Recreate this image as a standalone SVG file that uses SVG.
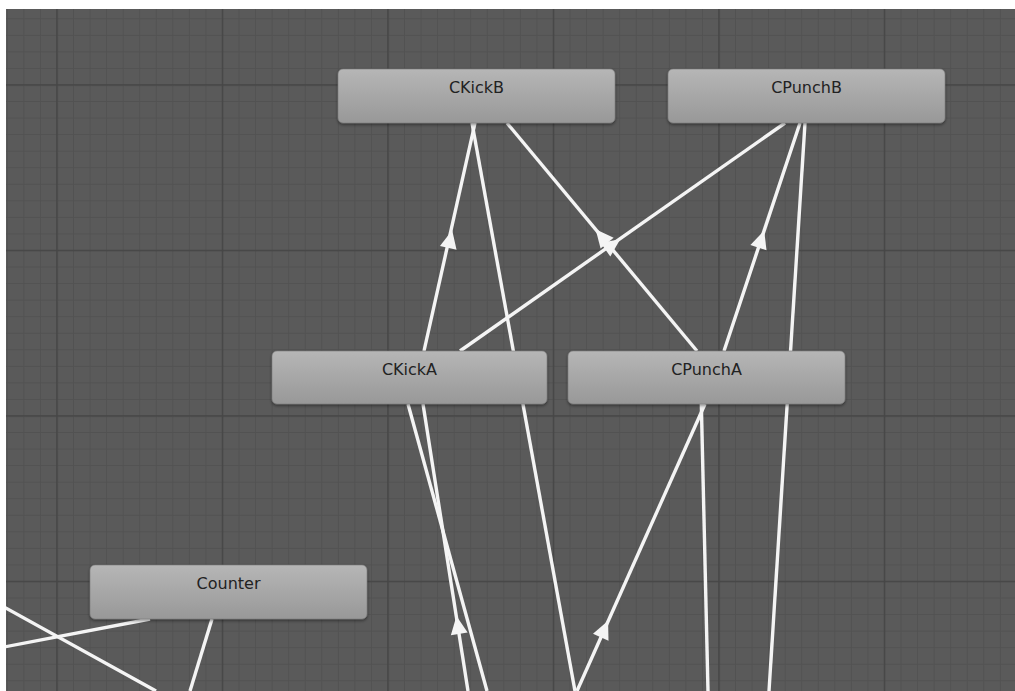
<svg xmlns="http://www.w3.org/2000/svg" width="1015" height="691" viewBox="0 0 1015 691">
  <style>
    .node rect.box { fill: url(#nodeGrad); stroke: #7a7a7a; stroke-width: 0.6; filter: url(#shadow); }
    .node text { font-family: "DejaVu Sans", "Liberation Sans", sans-serif; font-size: 16px; fill: #222222; text-anchor: middle; }
    .edge { stroke: #f4f4f4; stroke-width: 3.4; fill: none; stroke-linecap: butt; }
    .arrow { fill: #f4f4f4; }
  </style>
  <defs>
    <linearGradient id="nodeGrad" x1="0" y1="0" x2="0" y2="1">
      <stop offset="0" stop-color="#b6b6b6"/>
      <stop offset="1" stop-color="#989898"/>
    </linearGradient>
    <filter id="shadow" x="-10%" y="-30%" width="120%" height="160%">
      <feDropShadow dx="0" dy="1.5" stdDeviation="1.5" flood-color="#000000" flood-opacity="0.45"/>
    </filter>
    <pattern id="minor" patternUnits="userSpaceOnUse" x="6.85" y="18.3" width="16.55" height="16.55">
      <rect x="0" y="0" width="1" height="16.55" fill="#525252"/>
      <rect x="0" y="0" width="16.55" height="1" fill="#525252"/>
    </pattern>
    <pattern id="major" patternUnits="userSpaceOnUse" x="56.25" y="84.25" width="165.5" height="165.5">
      <rect x="0" y="0" width="1.5" height="165.5" fill="#464646"/>
      <rect x="0" y="0" width="165.5" height="1.5" fill="#464646"/>
    </pattern>
    <clipPath id="view">
      <rect x="6" y="9" width="1009" height="682"/>
    </clipPath>
    <path id="ah" d="M10,0 L-8,-8.5 L-8,8.5 Z"/>
  </defs>

  <rect x="0" y="0" width="1015" height="691" fill="#ffffff"/>
  <g id="grid">
    <rect x="6" y="9" width="1009" height="682" fill="#5a5a5a"/>
    <rect x="6" y="9" width="1009" height="682" fill="url(#minor)"/>
    <rect x="6" y="9" width="1009" height="682" fill="url(#major)"/>
  </g>

  <g id="connectors" clip-path="url(#view)">
    <line class="edge" x1="424" y1="351" x2="475" y2="123"/>
    <line class="edge" x1="472" y1="123" x2="575" y2="691"/>
    <line class="edge" x1="697" y1="351" x2="507" y2="123"/>
    <line class="edge" x1="460" y1="351" x2="785" y2="123"/>
    <line class="edge" x1="724" y1="351" x2="800" y2="123"/>
    <line class="edge" x1="805" y1="123" x2="769" y2="691"/>
    <line class="edge" x1="701" y1="390" x2="708" y2="691"/>
    <line class="edge" x1="577" y1="691" x2="705" y2="404"/>
    <line class="edge" x1="468" y1="691" x2="423" y2="404"/>
    <line class="edge" x1="408" y1="404" x2="487" y2="691"/>
    <line class="edge" x1="150" y1="619" x2="4" y2="647"/>
    <line class="edge" x1="4" y1="607" x2="156" y2="691"/>
    <line class="edge" x1="212" y1="619" x2="190" y2="691"/>
    <use href="#ah" class="arrow" transform="translate(450,240) rotate(-77.4)"/>
    <use href="#ah" class="arrow" transform="translate(602,237) rotate(-129.8)"/>
    <use href="#ah" class="arrow" transform="translate(612,245) rotate(-35.05)"/>
    <use href="#ah" class="arrow" transform="translate(761,240) rotate(-71.6)"/>
    <use href="#ah" class="arrow" transform="translate(604,630) rotate(-66)"/>
    <use href="#ah" class="arrow" transform="translate(458,626) rotate(-98.9)"/>
  </g>

  <g id="node-ckickb" class="node">
    <rect class="box" x="338" y="69" width="277" height="54" rx="5"/>
    <text x="476.5" y="93">CKickB</text>
  </g>
  <g id="node-cpunchb" class="node">
    <rect class="box" x="668" y="69" width="277" height="54" rx="5"/>
    <text x="806.5" y="93">CPunchB</text>
  </g>
  <g id="node-ckicka" class="node">
    <rect class="box" x="272" y="351" width="275" height="53" rx="5"/>
    <text x="409.5" y="375">CKickA</text>
  </g>
  <g id="node-cpuncha" class="node">
    <rect class="box" x="568" y="351" width="277" height="53" rx="5"/>
    <text x="706.5" y="375">CPunchA</text>
  </g>
  <g id="node-counter" class="node">
    <rect class="box" x="90" y="565" width="277" height="54" rx="5"/>
    <text x="228.5" y="589">Counter</text>
  </g>
</svg>
